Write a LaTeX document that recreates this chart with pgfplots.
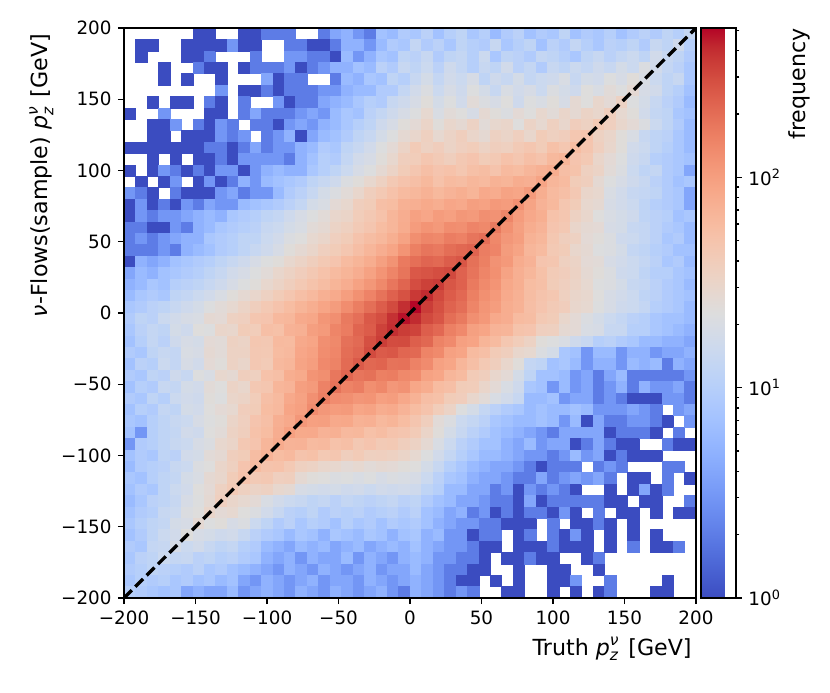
\documentclass[border=0pt]{standalone}
\usepackage{fontspec}
\setmainfont{DejaVu Sans}
\usepackage{pgfplots}
\pgfplotsset{compat=1.18}
\usepackage{pgfplotstable}

% 2D histogram counts: one line per y bin (top line: y=196, bottom: y=-196), columns c0..c49 for x=-196..196 (bin width 8)
\pgfplotstableread{
c0 c1 c2 c3 c4 c5 c6 c7 c8 c9 c10 c11 c12 c13 c14 c15 c16 c17 c18 c19 c20 c21 c22 c23 c24 c25 c26 c27 c28 c29 c30 c31 c32 c33 c34 c35 c36 c37 c38 c39 c40 c41 c42 c43 c44 c45 c46 c47 c48 c49
0 0 0 0 0 0 1 1 0 0 1 1 2 2 2 0 0 2 4 5 3 2 7 6 9 8 11 7 10 12 8 10 6 9 11 7 9 8 12 7 9 8 10 7 9 11 9 12 10 13
0 1 1 0 0 1 1 1 1 3 1 1 0 0 2 2 1 1 2 5 5 3 6 9 8 13 9 11 8 12 10 9 14 8 10 12 7 11 9 13 10 8 11 10 12 9 14 12 16 10
0 1 0 0 0 1 1 2 0 0 0 2 0 0 3 3 2 2 1 6 3 5 8 7 12 11 14 9 12 13 10 15 8 12 11 9 13 12 10 8 12 14 11 13 15 12 17 14 12 9
0 0 0 1 0 0 2 1 1 0 1 2 2 2 3 1 2 3 5 5 7 6 11 9 14 12 15 11 16 13 10 14 12 17 11 13 9 14 12 15 13 16 14 18 15 21 17 13 11 8
0 0 0 1 0 1 0 0 1 0 0 0 4 1 2 2 0 0 2 6 5 8 7 12 10 14 18 13 17 15 19 12 16 14 18 13 15 16 20 14 18 17 22 19 24 20 15 12 14 8
0 0 0 0 0 0 0 0 3 0 1 1 2 1 2 2 2 3 3 5 6 6 9 9 13 17 21 15 19 16 22 18 14 20 17 19 15 21 18 16 23 20 25 22 27 19 17 12 10 7
0 0 1 0 1 1 0 2 1 0 2 0 0 3 1 2 2 4 5 6 8 10 9 14 16 19 24 18 22 17 25 21 19 23 16 22 20 24 19 27 23 30 26 34 22 18 14 11 9 6
1 0 0 3 0 0 0 1 1 0 2 4 2 2 2 3 4 3 6 8 7 11 13 16 19 22 28 20 25 23 19 27 24 21 26 23 29 25 31 27 33 30 38 28 24 17 13 12 8 7
0 0 1 1 3 0 2 1 3 2 0 2 2 1 3 4 3 5 6 8 10 12 16 19 24 26 32 24 30 27 34 25 29 31 23 33 28 36 30 39 35 44 37 30 26 21 15 12 9 6
0 0 1 1 0 1 1 1 3 2 3 0 2 3 5 1 4 6 7 9 12 14 18 22 27 30 36 28 33 38 31 27 35 32 37 30 41 36 39 46 49 35 31 24 20 14 12 11 8 6
1 1 1 1 1 1 1 2 2 1 2 4 2 3 3 5 6 9 8 12 14 17 22 26 33 42 35 39 33 37 40 34 38 36 43 47 41 53 46 58 48 37 30 24 17 15 12 10 8 6
0 0 1 0 1 0 1 1 2 1 3 3 3 3 2 5 7 10 9 13 17 19 24 29 38 40 47 43 38 45 49 41 44 52 47 55 50 63 68 49 44 31 26 22 16 14 10 9 8 7
1 0 1 3 2 1 2 1 3 3 1 3 5 6 5 5 8 10 12 15 19 22 27 33 41 47 55 49 52 46 54 57 50 61 58 66 73 79 56 51 36 33 25 21 15 12 13 9 8 4
0 1 0 1 3 0 1 3 1 2 5 3 6 7 8 9 12 14 16 21 24 29 35 44 50 55 63 52 60 57 65 61 72 68 79 75 92 66 60 41 38 27 22 19 16 14 11 9 7 8
3 2 1 0 2 1 1 1 3 4 2 3 3 6 9 11 14 18 21 25 30 38 44 52 60 64 72 63 70 76 68 84 80 93 89 108 77 61 55 45 31 29 20 17 14 13 12 9 8 4
1 3 1 2 1 3 2 4 3 3 6 7 8 9 11 13 18 20 26 29 38 41 55 58 73 75 83 77 88 84 99 95 110 104 125 92 71 63 47 41 29 27 19 17 15 12 10 9 8 4
1 3 2 3 3 4 5 6 5 8 9 10 12 13 16 19 22 25 30 32 40 45 52 66 78 96 88 104 97 113 108 127 121 145 104 85 76 52 47 35 30 23 20 18 16 12 11 10 7 8
2 2 1 1 3 2 5 6 8 9 10 11 14 15 18 20 25 27 33 36 43 48 58 66 80 104 118 110 131 127 148 139 171 124 98 79 70 49 45 31 27 26 19 18 14 13 11 9 8 6
2 3 2 3 4 5 5 8 9 10 12 12 15 17 21 23 28 31 37 41 50 57 64 76 93 128 145 139 163 155 181 198 141 112 101 72 65 46 38 35 26 24 21 16 15 13 11 8 9 6
2 2 2 3 2 5 6 7 9 10 12 14 16 19 24 27 31 37 41 47 56 66 78 90 118 158 181 172 199 214 226 163 148 105 92 66 60 44 41 30 27 22 21 18 13 12 10 9 7 7
1 5 4 5 7 8 9 10 12 14 16 19 22 24 29 33 38 44 49 60 68 79 98 120 170 196 221 210 245 266 192 158 121 109 80 71 49 47 36 33 26 25 19 17 15 13 11 8 9 6
4 6 5 7 8 9 10 12 14 17 19 22 25 30 34 39 45 52 60 68 78 94 118 147 182 258 271 292 308 229 184 147 126 93 75 65 53 42 39 34 27 24 21 16 15 12 10 10 8 7
5 6 8 7 10 11 12 14 16 19 22 24 29 33 38 44 51 57 68 78 94 113 139 178 222 294 338 357 266 231 170 137 118 86 76 58 54 41 37 33 28 22 21 18 14 13 11 9 8 6
6 8 9 8 12 13 15 17 20 24 27 30 35 41 47 55 62 74 82 101 124 150 186 231 280 362 412 309 247 213 158 126 110 82 73 57 50 46 36 31 29 23 19 17 15 12 11 9 8 7
8 9 11 12 14 16 18 22 25 28 33 38 44 50 58 68 77 90 105 131 162 197 244 302 398 507 351 287 228 198 146 117 103 79 72 56 49 43 39 30 28 22 19 16 15 13 10 9 8 6
9 12 11 15 17 19 20 27 26 35 37 47 49 62 65 82 87 115 127 171 195 256 292 389 478 412 309 268 199 171 127 111 84 78 60 57 44 41 30 26 21 18 15 13 11 10 8 7 7 6
8 11 13 12 18 16 23 22 31 30 41 40 55 53 71 74 99 108 146 165 222 248 331 402 352 329 241 213 157 138 98 90 70 67 51 49 37 36 27 26 20 19 14 14 10 10 8 7 6 5
7 10 13 11 16 19 18 26 25 35 33 46 45 61 60 84 90 127 139 191 208 285 352 298 303 238 214 151 136 97 91 68 60 46 40 34 24 22 20 16 14 10 11 9 8 6 6 5 5 4
9 8 12 14 13 20 19 27 25 34 34 45 44 59 62 88 96 131 144 199 221 301 249 262 218 210 149 137 96 90 60 55 42 38 30 28 21 18 8 7 3 6 6 3 5 5 3 4 4 5
7 11 10 15 13 19 17 26 24 34 31 45 42 62 66 92 101 138 151 206 254 214 225 186 190 152 134 96 89 66 55 44 38 30 24 13 12 7 8 6 3 5 5 3 6 5 6 2 5 4
9 8 12 11 16 14 22 20 29 27 38 36 52 55 77 83 118 128 177 219 181 192 158 164 139 133 95 89 66 60 42 38 30 26 18 12 7 7 6 3 4 2 4 6 2 2 2 2 2 3
7 10 9 14 13 18 17 25 23 33 30 45 47 66 70 99 108 152 186 151 163 128 141 112 121 87 79 59 55 41 40 31 26 20 16 8 7 3 6 3 4 2 3 5 2 5 3 3 4 2
9 8 12 10 15 17 16 24 22 31 33 40 55 61 84 94 125 159 132 127 114 118 97 103 85 72 56 53 41 39 30 25 20 17 14 6 6 7 3 4 4 2 3 2 1 1 1 3 3 2
7 10 9 13 12 18 17 23 26 28 39 41 58 62 90 97 134 112 104 108 89 93 79 82 70 58 50 40 33 22 18 13 11 9 8 6 7 6 6 7 6 3 3 3 4 3 2 0 3 4
8 7 10 12 14 15 19 22 24 32 37 49 55 75 84 112 97 99 84 86 72 74 63 68 58 48 38 25 21 15 13 11 8 7 6 6 7 6 3 6 1 4 2 2 3 3 2 1 0 3
7 3 10 12 13 17 16 23 25 34 38 52 58 78 97 83 84 71 74 62 64 53 57 50 48 42 32 24 18 14 11 9 7 6 5 4 3 2 4 4 4 4 1 2 2 2 1 0 2 0
3 9 10 12 14 15 19 21 29 32 45 49 66 81 70 71 60 62 52 55 45 49 43 44 38 34 27 20 15 11 9 7 7 5 4 6 3 4 4 1 2 4 2 1 1 0 0 2 1 1
7 9 8 12 11 17 18 25 27 38 41 57 70 58 62 50 53 44 47 38 42 36 37 35 32 28 22 17 13 10 8 6 6 5 4 3 3 2 3 6 3 4 1 2 1 1 1 0 0 0
6 9 10 11 14 15 21 23 31 36 49 59 50 52 44 36 34 30 29 26 28 25 27 26 24 23 18 14 10 8 6 5 4 4 3 2 1 2 2 2 0 2 3 2 0 0 0 2 2 0
8 7 10 12 13 18 20 27 30 41 50 43 45 37 38 27 24 23 21 22 20 22 19 21 20 19 15 11 8 7 5 4 4 3 2 2 4 2 3 4 3 4 2 0 1 1 0 2 0 1
7 9 8 12 15 17 23 26 35 43 36 33 35 29 27 19 18 17 18 16 17 15 17 16 17 16 12 10 6 6 4 4 2 3 1 3 2 3 2 1 0 0 1 0 1 4 1 2 0 0
6 8 11 12 14 19 22 27 37 31 28 26 20 17 15 14 12 13 11 13 12 11 12 13 11 12 9 7 6 4 4 3 2 2 1 4 1 2 2 2 2 2 1 1 0 1 1 0 0 2
7 9 10 14 15 21 23 31 26 28 23 21 17 14 11 10 12 9 11 10 11 9 10 11 9 11 7 6 4 5 2 3 1 2 1 2 2 1 3 1 0 2 0 1 1 0 1 0 1 1
8 10 12 13 18 19 27 22 24 19 21 15 12 9 11 8 10 9 7 10 8 9 7 9 8 9 7 5 4 3 3 2 2 1 1 1 0 2 0 1 1 2 1 0 1 0 0 0 0 0
7 9 12 15 17 23 19 18 16 17 14 11 9 8 6 8 7 5 8 7 6 8 7 5 7 8 5 6 3 3 1 2 2 0 1 2 0 2 1 3 1 0 1 0 1 0 1 0 0 0
9 8 13 14 19 15 17 14 12 13 10 9 6 5 4 6 5 6 4 5 6 4 5 6 5 7 5 4 3 3 2 1 1 0 1 1 1 2 1 1 1 0 1 0 2 0 1 1 2 0
8 11 12 15 13 14 11 12 10 11 9 8 5 4 5 3 5 4 4 6 3 5 4 3 5 6 5 3 3 2 2 1 0 1 1 2 1 1 0 0 1 2 0 0 0 0 0 0 0 0
9 10 12 11 10 9 11 8 9 7 6 5 4 3 5 4 3 5 4 3 4 5 3 4 4 6 4 3 2 2 1 1 0 0 1 0 0 1 1 0 0 1 0 0 0 0 0 0 0 0
8 10 9 10 8 9 7 8 6 7 4 3 5 4 3 4 5 3 4 4 3 5 4 3 4 5 4 3 2 1 1 0 1 0 1 0 0 1 1 3 0 0 2 0 0 0 0 1 0 0
10 9 8 7 8 4 5 4 4 6 3 4 5 4 3 5 4 3 5 4 3 4 5 3 2 5 4 3 2 3 2 0 0 1 1 0 0 1 0 1 0 1 2 0 0 0 1 1 0 0
}\hist

\newcommand{\scr}{\fontsize{9.3}{10}\selectfont}
\newcommand{\pz}{\textit{p}\makebox[0pt][l]{\raisebox{0.45em}{\scr\textit{ν}}}\raisebox{-0.25em}{\scr\textit{z}}\hspace{0.45em}}

\begin{document}
\fontsize{11}{13}\selectfont
\begin{tikzpicture}
\useasboundingbox (-74.4pt,-56.4pt) rectangle (423.6pt,358.8pt);
\begin{axis}[
  at={(0,0)}, anchor=south west,
  scale only axis, width=343.2pt, height=342pt,
  xmin=-200, xmax=200, ymin=-200, ymax=200,
  axis on top,
  clip marker paths=true,
  axis line style={line width=0.8pt},
  xtick={-200,-150,-100,-50,0,50,100,150,200},
  xticklabels={−200,−150,−100,−50,0,50,100,150,200},
  ytick={-200,-150,-100,-50,0,50,100,150,200},
  yticklabels={−200,−150,−100,−50,0,50,100,150,200},
  tick align=outside, xtick pos=bottom, ytick pos=left,
  major tick length=3.6pt,
  tick style={black, line width=0.8pt},
  label style={font=\fontsize{13.3}{15}\selectfont},
  xlabel={Truth \pz{}[GeV]},
  ylabel={\textit{ν}-Flows(sample) \pz{}[GeV]},
  xlabel style={at={(axis description cs:0.993,-0.1)}, anchor=base east, inner sep=0pt},
  ylabel style={at={(axis description cs:-0.133,0.99)}, anchor=base east, inner sep=0pt},
  colormap={coolwarm}{rgb255=(59,76,192) rgb255=(68,90,204) rgb255=(77,104,215) rgb255=(87,117,225) rgb255=(98,130,234) rgb255=(108,142,241) rgb255=(119,154,247) rgb255=(130,165,251) rgb255=(141,176,254) rgb255=(152,185,255) rgb255=(163,194,255) rgb255=(174,201,253) rgb255=(184,208,249) rgb255=(194,213,244) rgb255=(204,217,238) rgb255=(213,219,230) rgb255=(221,221,221) rgb255=(229,216,209) rgb255=(236,211,197) rgb255=(241,204,185) rgb255=(245,196,173) rgb255=(247,187,160) rgb255=(247,177,148) rgb255=(247,166,135) rgb255=(244,154,123) rgb255=(241,141,111) rgb255=(236,127,99) rgb255=(229,112,88) rgb255=(222,96,77) rgb255=(213,80,66) rgb255=(203,62,56) rgb255=(192,40,47) rgb255=(180,4,38)},
  point meta min=0, point meta max=2.71,
  colorbar,
  colorbar style={
    at={(parent axis.north east)}, anchor=north west, xshift=-5.536pt,
    scale only axis, width=21pt, height=342pt,
    axis line style={line width=0.8pt},
    ytick={0,1,2},
    yticklabels={10\textsuperscript{0},10\textsuperscript{1},10\textsuperscript{2}},
    minor ytick={0.30103,0.47712,0.60206,0.69897,0.77815,0.84510,0.90309,0.95424,1.30103,1.47712,1.60206,1.69897,1.77815,1.84510,1.90309,1.95424,2.30103,2.47712,2.60206,2.69897},
    ytick pos=right, yticklabel pos=right,
    tick align=outside,
    major tick length=3.6pt, minor tick length=2.1pt,
    tick style={black, line width=0.8pt},
    ylabel={frequency},
    ylabel style={at={(axis description cs:3.0,1)}, anchor=base east, inner sep=0pt, font=\fontsize{13.3}{15}\selectfont},
  },
]
\pgfplotsinvokeforeach{0,...,49}{
  \addplot[scatter, only marks, mark=square*, mark size=3.43pt,
    mark options={line width=0.15pt},
    scatter/use mapped color={draw=mapped color, fill=mapped color},
    restrict expr to domain={\thisrow{c#1}}{0.5:100000},
    point meta={log10(\thisrow{c#1})}]
    table[x expr={-196+8*#1}, y expr={196-8*\coordindex}] {\hist};
}
\addplot[black, line width=2pt, dash pattern=on 6.6pt off 3pt] coordinates {(-200,-200) (200,200)};
\end{axis}
\end{tikzpicture}
\end{document}
